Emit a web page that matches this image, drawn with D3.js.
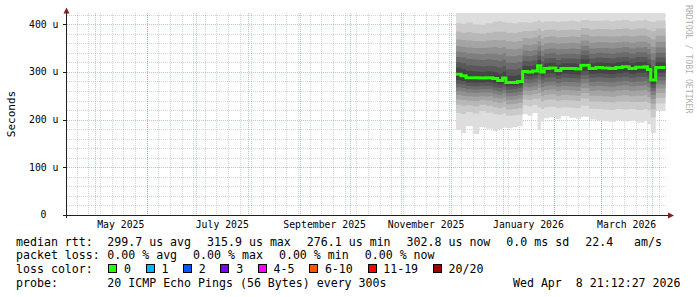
<!DOCTYPE html>
<html>
<head>
<meta charset="utf-8">
<script src="https://cdn.jsdelivr.net/npm/d3@7"></script>
<style>
body { margin: 0; background: #fff; }
text { font-family: "DejaVu Sans Mono", monospace; white-space: pre; }
</style>
</head>
<body>
<div id="graph"></div>
<script>
// start of each data segment, its median rtt (us) and the 20 sorted pings
var segStart = ["2025-12-04", "2025-12-07", "2025-12-10", "2025-12-14", "2025-12-18", "2025-12-22",
    "2025-12-26", "2025-12-29", "2026-01-01", "2026-01-03", "2026-01-07", "2026-01-10",
    "2026-01-13", "2026-01-16", "2026-01-19", "2026-01-22", "2026-01-24", "2026-01-26",
    "2026-01-29", "2026-02-02", "2026-02-05", "2026-02-10", "2026-02-14", "2026-02-17",
    "2026-02-22", "2026-02-26", "2026-03-02", "2026-03-06", "2026-03-10", "2026-03-14",
    "2026-03-18", "2026-03-22", "2026-03-27", "2026-03-29", "2026-03-31", "2026-04-03"];

var median = [295, 292, 288, 288, 287, 288, 286, 282, 287, 278, 278, 280,
    301, 300, 302, 313, 300, 307, 308, 303, 307, 307, 306, 314,
    307, 309, 308, 307, 309, 311, 307, 310, 311, 305, 283, 309];

var pings = [
    [178, 214, 231, 242, 252, 260, 268, 275, 283, 291, 299, 309, 320, 331, 342, 354, 368, 384, 402, 450],
    [172, 212, 229, 241, 250, 259, 266, 274, 281, 288, 296, 306, 318, 330, 341, 353, 367, 382, 401, 455],
    [186, 216, 230, 240, 249, 257, 264, 271, 278, 285, 292, 302, 314, 327, 339, 351, 366, 383, 404, 460],
    [170, 213, 228, 239, 248, 256, 263, 270, 278, 285, 291, 301, 313, 326, 338, 350, 365, 381, 400, 452],
    [184, 218, 231, 241, 249, 257, 264, 271, 278, 284, 290, 300, 312, 325, 337, 350, 364, 380, 399, 448],
    [181, 215, 229, 240, 249, 257, 264, 271, 279, 285, 291, 301, 313, 326, 338, 351, 366, 382, 402, 458],
    [176, 212, 226, 237, 246, 254, 261, 268, 276, 283, 289, 300, 312, 325, 338, 352, 367, 384, 405, 462],
    [180, 210, 224, 235, 244, 252, 259, 266, 273, 279, 285, 296, 309, 323, 336, 350, 366, 384, 406, 470],
    [183, 213, 227, 238, 247, 255, 262, 269, 277, 284, 290, 301, 313, 326, 339, 352, 367, 384, 404, 465],
    [182, 208, 221, 232, 241, 249, 256, 263, 270, 275, 281, 292, 305, 319, 333, 348, 364, 382, 403, 460],
    [184, 209, 222, 233, 242, 250, 257, 264, 270, 275, 281, 292, 305, 319, 333, 347, 363, 381, 402, 455],
    [186, 210, 224, 235, 244, 252, 259, 266, 272, 277, 283, 294, 307, 321, 335, 349, 365, 383, 404, 465],
    [212, 230, 242, 252, 261, 269, 277, 285, 292, 298, 304, 313, 323, 334, 345, 357, 371, 386, 404, 458],
    [208, 228, 241, 251, 260, 268, 276, 284, 291, 297, 303, 312, 322, 333, 344, 356, 370, 385, 403, 452],
    [214, 231, 243, 253, 262, 270, 278, 286, 293, 299, 305, 314, 324, 335, 346, 358, 372, 387, 405, 460],
    [178, 226, 244, 256, 266, 275, 284, 293, 301, 309, 317, 325, 334, 344, 354, 365, 377, 391, 408, 470],
    [196, 222, 238, 249, 259, 268, 276, 284, 291, 297, 303, 312, 322, 333, 344, 356, 370, 385, 404, 462],
    [203, 226, 241, 252, 262, 271, 279, 288, 296, 303, 310, 318, 328, 338, 348, 360, 373, 388, 406, 458],
    [205, 227, 242, 253, 263, 272, 280, 289, 297, 304, 311, 319, 329, 339, 349, 361, 374, 389, 406, 455],
    [201, 224, 239, 250, 260, 269, 277, 285, 293, 300, 306, 315, 325, 336, 347, 359, 372, 387, 405, 450],
    [207, 226, 241, 252, 262, 271, 279, 288, 296, 303, 310, 318, 328, 338, 348, 360, 373, 388, 406, 460],
    [204, 225, 240, 251, 261, 270, 279, 287, 295, 303, 310, 318, 328, 338, 349, 361, 374, 389, 407, 466],
    [202, 224, 239, 250, 260, 269, 278, 286, 294, 302, 309, 317, 327, 337, 348, 360, 373, 388, 405, 455],
    [206, 229, 244, 256, 266, 276, 285, 294, 302, 310, 318, 326, 335, 345, 355, 366, 378, 392, 409, 468],
    [200, 223, 238, 250, 260, 270, 279, 288, 296, 303, 310, 318, 328, 338, 349, 361, 374, 389, 407, 462],
    [198, 222, 238, 250, 261, 271, 280, 289, 297, 305, 312, 320, 330, 340, 350, 362, 375, 390, 407, 458],
    [197, 221, 237, 249, 260, 270, 279, 288, 296, 304, 311, 319, 329, 339, 350, 362, 375, 390, 408, 464],
    [195, 220, 236, 248, 259, 269, 278, 287, 295, 303, 310, 318, 328, 338, 349, 361, 374, 389, 406, 455],
    [199, 222, 238, 250, 261, 271, 280, 289, 297, 305, 312, 320, 330, 340, 350, 362, 375, 390, 408, 462],
    [196, 221, 238, 251, 262, 272, 281, 290, 299, 307, 314, 322, 331, 341, 352, 363, 376, 391, 409, 470],
    [198, 222, 237, 249, 260, 270, 279, 288, 296, 303, 310, 318, 328, 338, 349, 361, 374, 389, 406, 458],
    [194, 220, 237, 250, 261, 271, 280, 290, 298, 306, 313, 321, 331, 341, 351, 363, 376, 391, 408, 466],
    [197, 222, 238, 251, 262, 272, 281, 290, 299, 307, 314, 322, 331, 341, 352, 363, 376, 391, 409, 460],
    [190, 219, 235, 247, 258, 268, 277, 286, 294, 301, 308, 316, 326, 337, 348, 360, 373, 388, 406, 465],
    [172, 205, 221, 233, 243, 252, 260, 267, 274, 280, 287, 298, 311, 325, 339, 353, 368, 385, 405, 470],
    [218, 234, 246, 256, 265, 274, 282, 290, 298, 305, 312, 320, 330, 340, 351, 363, 376, 391, 408, 460]
];

var endTime = new Date(2026, 3, 8, 21, 12, 27);
var yTicks = [0, 100, 200, 300, 400];
var yLabels = ["0", "100 u", "200 u", "300 u", "400 u"];

var rttStats = ["299.7 us avg", "315.9 us max", "276.1 us min", "302.8 us now", "0.0 ms sd", "22.4   am/s"];
var lossStats = ["0.00 % avg", "0.00 % max", "0.00 % min", "0.00 % now"];
var lossLabels = ["0", "1", "2", "3", "4-5", "6-10", "11-19", "20/20"];
var lossColors = ["#26ff00", "#00b8ff", "#0059ff", "#7e00ff", "#ff00ff", "#ff5500", "#ff0000", "#a00000"];
var smokeShades = ["#dddddd", "#cacaca", "#b7b7b7", "#a4a4a4", "#919191",
    "#7e7e7e", "#6b6b6b", "#585858", "#454545", "#323232"];

var W = 697, H = 297;
var plot = {left: 67, right: 666, top: 13, bottom: 215};

var svg = d3.select("#graph")
    .append("svg")
    .attr("width", W)
    .attr("height", H);

svg.append("rect").attr("width", W).attr("height", H).attr("fill", "#fff");

var startTime = d3.timeDay.offset(endTime, -360);
var x = d3.scaleTime().domain([startTime, endTime]).range([66.5, 665.5]);
var y = d3.scaleLinear().domain([0, 423.5]).range([plot.bottom, plot.top]);

var parseDay = d3.timeParse("%Y-%m-%d");
var rows = segStart.map(function (s, i) {
    return {t: parseDay(s), m: median[i], p: pings[i]};
});
// hold the last segment until the end of the graph
var last = rows[rows.length - 1];
rows.push({t: endTime, m: last.m, p: last.p});

// grid
var grid = svg.append("g");
var crisp = function (v) { return Math.round(v) + 0.5; };
var minorCol = "rgba(143,143,143,0.38)", majorCol = "rgba(222,79,79,0.45)";

d3.range(20, 424, 20).filter(function (v) { return v % 100 != 0; }).forEach(function (v) {
    grid.append("line")
        .attr("x1", plot.left).attr("x2", plot.right)
        .attr("y1", crisp(y(v))).attr("y2", crisp(y(v)))
        .attr("stroke", minorCol).attr("stroke-dasharray", "1,1");
});
d3.timeSunday.range(startTime, endTime).forEach(function (d) {
    grid.append("line")
        .attr("x1", crisp(x(d))).attr("x2", crisp(x(d)))
        .attr("y1", plot.top).attr("y2", plot.bottom)
        .attr("stroke", minorCol).attr("stroke-dasharray", "1,1");
});
yTicks.slice(1).forEach(function (v) {
    grid.append("line")
        .attr("x1", plot.left).attr("x2", plot.right)
        .attr("y1", crisp(y(v))).attr("y2", crisp(y(v)))
        .attr("stroke", majorCol).attr("stroke-dasharray", "1,1");
});
var months = d3.timeMonth.range(startTime, endTime);
months.forEach(function (d) {
    grid.append("line")
        .attr("x1", crisp(x(d))).attr("x2", crisp(x(d)))
        .attr("y1", plot.top).attr("y2", plot.bottom)
        .attr("stroke", majorCol).attr("stroke-dasharray", "1,1");
});

// smoke
svg.append("clipPath").attr("id", "clip")
    .append("rect")
    .attr("x", plot.left).attr("y", plot.top)
    .attr("width", plot.right - plot.left).attr("height", plot.bottom - plot.top);

var smoke = svg.append("g").attr("clip-path", "url(#clip)");
smokeShades.forEach(function (shade, b) {
    var area = d3.area()
        .x(function (d) { return x(d.t); })
        .y0(function (d) { return y(d.p[b]); })
        .y1(function (d) { return y(d.p[19 - b]); })
        .curve(d3.curveStepAfter);
    smoke.append("path")
        .datum(rows)
        .attr("d", area)
        .attr("fill", shade);
});

// median line, coloured by loss (no loss here)
var medLine = d3.line()
    .x(function (d) { return x(d.t); })
    .y(function (d) { return y(d.m); })
    .curve(d3.curveStepAfter);
smoke.append("path")
    .datum(rows)
    .attr("d", medLine)
    .attr("fill", "none")
    .attr("stroke", lossColors[0])
    .attr("stroke-width", 3);

// axes
var axisCol = "#1f1f1f", arrowCol = "#801f1f";
svg.append("line")
    .attr("x1", 63).attr("x2", 669).attr("y1", 215.5).attr("y2", 215.5)
    .attr("stroke", axisCol);
svg.append("line")
    .attr("x1", 66.5).attr("x2", 66.5).attr("y1", 218).attr("y2", 11)
    .attr("stroke", axisCol);
svg.append("path").attr("d", "M63.5,13.5L69.5,13.5L66.5,7.5Z").attr("fill", arrowCol);
svg.append("path").attr("d", "M668,212.5L668,218.5L674,215.5Z").attr("fill", arrowCol);

yTicks.forEach(function (v, i) {
    svg.append("line")
        .attr("x1", 63).attr("x2", 67)
        .attr("y1", crisp(y(v))).attr("y2", crisp(y(v)))
        .attr("stroke", axisCol);
    svg.append("text")
        .attr("x", v == 0 ? 46.5 : 58.5)
        .attr("y", y(v) + 3.3)
        .attr("text-anchor", "end")
        .attr("font-size", "9.8px")
        .text(yLabels[i]);
});

// month labels every two months, centred on the month
months.filter(function (d) { return d.getMonth() % 2 == 0; }).forEach(function (d) {
    var mid = new Date((+d + +d3.timeMonth.offset(d, 1)) / 2);
    svg.append("text")
        .attr("x", x(mid))
        .attr("y", 228.3)
        .attr("text-anchor", "middle")
        .attr("font-size", "9.8px")
        .text(d3.timeFormat("%B %Y")(d));
});

svg.append("text")
    .attr("transform", "translate(15,114) rotate(-90)")
    .attr("text-anchor", "middle")
    .attr("font-family", "DejaVu Sans")
    .attr("font-size", "11px")
    .text("Seconds");

svg.append("text")
    .attr("transform", "translate(685.5,5) rotate(90)")
    .attr("font-size", "8.2px")
    .attr("fill", "#b0b0b0")
    .text("RRDTOOL / TOBI OETIKER");

// legend
var legend = svg.append("g").attr("font-size", "11.6px");
var lineY = [245.7, 259.3, 273, 286.7];
var itemX = 107.3;

function row(title, items, ly) {
    legend.append("text").attr("x", 16).attr("y", ly).text(title);
    var cx = itemX;
    items.forEach(function (s) {
        var t = legend.append("text").attr("x", cx).attr("y", ly).text(s);
        cx += t.node().getComputedTextLength() + 16;
    });
}
row("median rtt:", rttStats, lineY[0]);
row("packet loss:", lossStats, lineY[1]);

legend.append("text").attr("x", 16).attr("y", lineY[2]).text("loss color:");
var sx = 108.3;
lossLabels.forEach(function (l, i) {
    legend.append("rect")
        .attr("x", Math.round(sx) + 0.5).attr("y", 264.5)
        .attr("width", 8).attr("height", 8)
        .attr("fill", lossColors[i])
        .attr("stroke", "#000");
    var t = legend.append("text").attr("x", sx + 15.7).attr("y", lineY[2]).text(l);
    sx += 15.7 + t.node().getComputedTextLength() + 14.7;
});

legend.append("text").attr("x", 16).attr("y", lineY[3]).text("probe:");
legend.append("text").attr("x", itemX).attr("y", lineY[3]).text("20 ICMP Echo Pings (56 Bytes) every 300s");
legend.append("text").attr("x", 680.5).attr("y", lineY[3]).attr("text-anchor", "end")
    .text("Wed Apr  8 21:12:27 2026");
</script>
</body>
</html>
